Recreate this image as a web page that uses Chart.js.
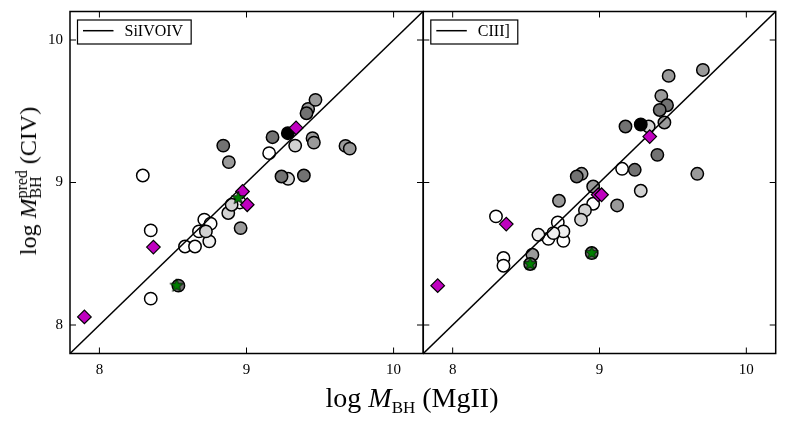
<!DOCTYPE html>
<html><head><meta charset="utf-8">
<script src="https://cdn.jsdelivr.net/npm/chart.js@4.4.0/dist/chart.umd.min.js"></script>
<style>
html,body{margin:0;padding:0;background:#fff;}
#wrap{position:relative;width:789px;height:425px;overflow:hidden;font-family:"Liberation Serif",serif;background:#fff;}
#cl{position:absolute;left:0;top:0;}
#cr{position:absolute;left:423px;top:0;}
.lab{position:absolute;white-space:nowrap;color:#000;line-height:1;}
#xl{left:412px;top:398px;transform:translate(-50%,-50%);font-size:28px;}
#yl{left:29px;top:181px;transform:translate(-50%,-50%) rotate(-90deg);font-size:24px;}
.sb{font-size:17px;position:relative;top:6px;}
.ss{display:inline-flex;flex-direction:column;font-size:16px;line-height:14px;vertical-align:9px;}
</style>
</head><body>
<div id="wrap">
<canvas id="cl" width="424" height="425"></canvas>
<canvas id="cr" width="366" height="425"></canvas>
<div class="lab" id="xl">log <i>M</i><span class="sb">BH</span> (MgII)</div>
<div class="lab" id="yl">log <i>M</i><span class="ss"><span>pred</span><span>BH</span></span> (CIV)</div>
</div>
<script>
// ---------- data ----------
const xTicks = [8, 9, 10];
const yTicks = [8, 9, 10];
const legendLeft = "SiIVOIV";
const legendRight = "CIII]";
const oneToOne = [[7.8, 7.8], [10.2, 10.2]];

// Left panel (SiIV+OIV based predictions)
const leftBlack = [[9.281, 9.346]];
const leftDark = [[8.842, 9.259], [9.177, 9.318], [9.408, 9.486], [9.238, 9.042], [9.390, 9.049], [8.537, 8.276]];
const leftMid = [[8.880, 9.143], [9.419, 9.516], [9.469, 9.580], [9.449, 9.311], [9.458, 9.280], [9.673, 9.257], [9.702, 9.238], [8.960, 8.680]];
const leftLight = [[9.331, 9.259], [9.283, 9.026], [8.724, 8.657], [8.876, 8.786], [8.899, 8.844]];
const leftVLight = [[8.747, 8.587]];
const leftWhite = [[8.295, 9.049], [9.154, 9.206], [8.349, 8.664], [8.713, 8.739], [8.756, 8.711], [8.677, 8.657], [8.582, 8.551], [8.650, 8.551], [8.349, 8.185], [8.955, 8.860]];
const leftMagenta = [[9.337, 9.383], [8.367, 8.547], [8.973, 8.937], [9.005, 8.844], [7.898, 8.057]];
const leftStar = [[8.525, 8.276], [8.944, 8.891]];

// Right panel (CIII] based predictions)
const rightBlack = [[9.281, 9.407]];
const rightDark = [[9.460, 9.542], [9.410, 9.509], [9.177, 9.393], [9.394, 9.194], [9.240, 9.089], [8.845, 9.042], [8.528, 8.428], [8.947, 8.505]];
const rightMid = [[9.471, 9.748], [9.704, 9.790], [9.421, 9.608], [9.442, 9.421], [9.666, 9.061], [8.878, 9.061], [8.957, 8.972], [9.120, 8.839], [8.543, 8.493], [8.724, 8.872]];
const rightLight = [[9.335, 9.393], [9.281, 8.942], [8.901, 8.804], [8.874, 8.739]];
const rightVLight = [[8.584, 8.633], [8.754, 8.657], [8.686, 8.645]];
const rightWhite = [[9.154, 9.096], [8.957, 8.851], [8.295, 8.762], [8.716, 8.720], [8.652, 8.605], [8.754, 8.591], [8.346, 8.470], [8.346, 8.416]];
const rightMagenta = [[9.342, 9.322], [8.991, 8.914], [9.014, 8.914], [8.365, 8.708], [7.898, 8.276]];
const rightStar = [[8.528, 8.428], [8.947, 8.505]];

// ---------- rendering ----------
const FONT = "'Liberation Serif', serif";
const pts = a => a.map(p => ({x: p[0], y: p[1]}));

function starImg() {
  const c = document.createElement('canvas');
  c.width = 16; c.height = 16;
  const g = c.getContext('2d');
  g.beginPath();
  for (let i = 0; i < 10; i++) {
    const r = i % 2 ? 2.9 : 7;
    const a = -Math.PI / 2 + i * Math.PI / 5;
    g.lineTo(8 + r * Math.cos(a), 8 + r * Math.sin(a));
  }
  g.closePath();
  g.fillStyle = '#008000'; g.fill();
  g.lineWidth = 0.8; g.strokeStyle = '#000'; g.stroke();
  return c;
}
const STAR = starImg();

function circ(data, color) {
  return {data: pts(data), pointStyle: 'circle', pointRadius: 6.2, pointHoverRadius: 6.2,
    backgroundColor: color, borderColor: '#000', borderWidth: 1.5, showLine: false};
}

function buildSets(g) {
  return [
    {data: pts(g.star), pointStyle: STAR, pointRadius: 7, showLine: false},
    {data: pts(g.mag), pointStyle: 'rectRot', pointRadius: 6.8, pointHoverRadius: 6.8,
      backgroundColor: '#bf00bf', borderColor: '#000', borderWidth: 1.2, showLine: false},
    {data: pts(oneToOne), showLine: true, pointRadius: 0, borderColor: '#000', borderWidth: 1.5, fill: false},
    circ(g.black, '#000000'),
    circ(g.dark, '#727272'),
    circ(g.mid, '#9a9a9a'),
    circ(g.light, '#d2d2d2'),
    circ(g.vlight, '#efefef'),
    circ(g.white, '#ffffff')
  ];
}

function framePlugin(legendText, showYLabels) {
  return {
    id: 'frame',
    afterDraw(chart) {
      const ctx = chart.ctx, a = chart.chartArea, x = chart.scales.x, y = chart.scales.y;
      ctx.save();
      ctx.strokeStyle = '#000';
      ctx.lineWidth = 1;
      const L = 6;
      const seg = (x1, y1, x2, y2) => { ctx.beginPath(); ctx.moveTo(x1, y1); ctx.lineTo(x2, y2); ctx.stroke(); };
      xTicks.forEach(v => { const p = x.getPixelForValue(v); seg(p, a.bottom, p, a.bottom - L); seg(p, a.top, p, a.top + L); });
      yTicks.forEach(v => { const p = y.getPixelForValue(v); seg(a.left, p, a.left + L, p); seg(a.right, p, a.right - L, p); });
      // tick labels
      ctx.fillStyle = '#000';
      ctx.font = "15px " + FONT;
      ctx.textAlign = 'center';
      ctx.textBaseline = 'top';
      xTicks.forEach(v => ctx.fillText(String(v), x.getPixelForValue(v), a.bottom + 9));
      if (showYLabels) {
        ctx.textAlign = 'right';
        ctx.textBaseline = 'middle';
        yTicks.forEach(v => ctx.fillText(String(v), a.left - 7, y.getPixelForValue(v)));
      }
      // legend
      ctx.font = "16px " + FONT;
      const tw = ctx.measureText(legendText).width;
      const bx = a.left + 7.5, by = a.top + 8.5, bw = 47 + tw + 8, bh = 24;
      ctx.fillStyle = '#fff';
      ctx.fillRect(bx, by, bw, bh);
      ctx.lineWidth = 1.2;
      ctx.strokeRect(bx, by, bw, bh);
      ctx.lineWidth = 1.5;
      seg(bx + 5.5, by + 10.7, bx + 36, by + 10.7);
      ctx.fillStyle = '#000';
      ctx.textBaseline = 'middle';
      ctx.textAlign = 'left';
      ctx.fillText(legendText, bx + 47, by + 11.5);
      // frame
      ctx.lineWidth = 1.5;
      ctx.strokeRect(a.left, a.top, a.right - a.left, a.bottom - a.top);
      ctx.restore();
    }
  };
}

function makeChart(id, groups, legendText, showY, pad) {
  return new Chart(document.getElementById(id), {
    type: 'scatter',
    data: {datasets: buildSets(groups)},
    options: {
      responsive: false, animation: false, devicePixelRatio: 1,
      layout: {padding: pad, autoPadding: false},
      plugins: {legend: {display: false}, tooltip: {enabled: false}},
      scales: {
        x: {type: 'linear', min: 7.8, max: 10.2,
          grid: {display: false, drawTicks: false}, border: {display: false},
          ticks: {display: false},
          afterBuildTicks: s => { s.ticks = xTicks.map(v => ({value: v})); },
          afterFit: s => { s.height = 71.5; }},
        y: {type: 'linear', min: 7.8, max: 10.2,
          grid: {display: false, drawTicks: false}, border: {display: false},
          ticks: {display: false},
          afterBuildTicks: s => { s.ticks = yTicks.map(v => ({value: v})); },
          afterFit: s => { s.width = showY ? 70 : 0; }}
      }
    },
    plugins: [framePlugin(legendText, showY)]
  });
}

makeChart('cl', {star: leftStar, mag: leftMagenta, black: leftBlack, dark: leftDark, mid: leftMid,
  light: leftLight, vlight: leftVLight, white: leftWhite}, legendLeft, true,
  {left: 0, top: 11.5, right: 1, bottom: 0});
makeChart('cr', {star: rightStar, mag: rightMagenta, black: rightBlack, dark: rightDark, mid: rightMid,
  light: rightLight, vlight: rightVLight, white: rightWhite}, legendRight, false,
  {left: 0.3, top: 11.5, right: 13.3, bottom: 0});
</script>
</body></html>
